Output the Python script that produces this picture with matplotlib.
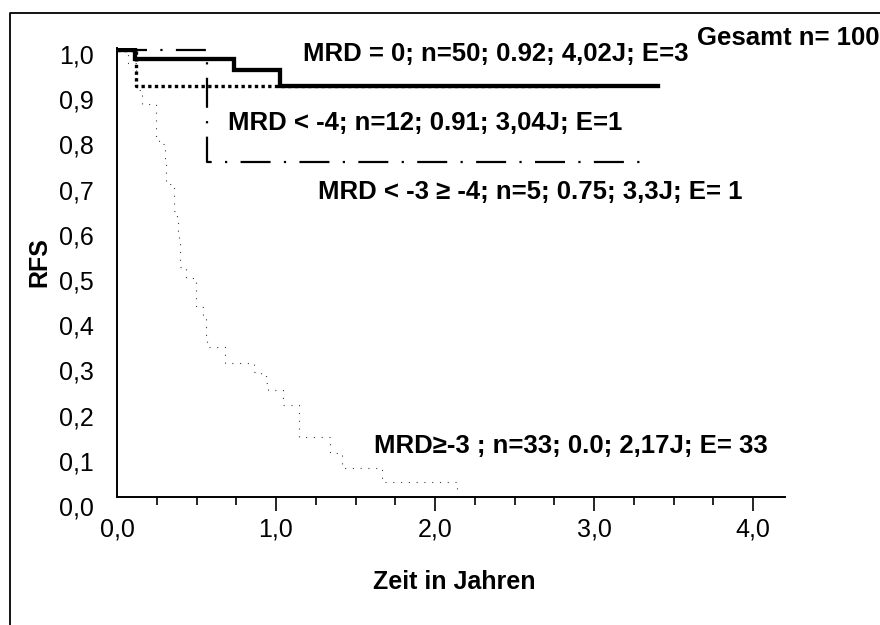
import matplotlib
matplotlib.use("Agg")
import matplotlib.pyplot as plt
from matplotlib.lines import Line2D
from matplotlib.ticker import FixedLocator, FuncFormatter
import matplotlib.transforms as mtransforms

plt.rcParams['font.family'] = ['Liberation Sans', 'DejaVu Sans']

# ---- data ----
# MRD = 0 (n=50)
mrd0_t = [0.0, 0.113, 0.735, 1.025, 3.40]
mrd0_s = [1.0, 0.98, 0.955, 0.92, 0.92]
# MRD < -4 (n=12)
mrd4_t = [0.0, 0.12, 3.04]
mrd4_s = [1.0, 0.92, 0.92]
# MRD < -3 >= -4 (n=5)
mrd34_t = [0.0, 0.566, 3.31]
mrd34_s = [1.0, 0.75, 0.75]
# MRD >= -3 (n=33)
mrd3_t = [0.0, 0.07, 0.12, 0.16, 0.245, 0.265, 0.30, 0.31, 0.36, 0.38, 0.384,
          0.39, 0.396, 0.434, 0.497, 0.54, 0.56, 0.566, 0.68, 0.86, 0.906,
          0.94, 0.95, 1.044, 1.145, 1.34, 1.415, 1.667, 2.14, 2.17]
mrd3_s = [1.0, 0.97, 0.91, 0.88, 0.80, 0.79, 0.745, 0.70, 0.64, 0.62, 0.59,
          0.57, 0.515, 0.49, 0.425, 0.405, 0.36, 0.335, 0.30, 0.28, 0.27,
          0.255, 0.24, 0.205, 0.135, 0.098, 0.065, 0.033, 0.0, 0.0]

x_ticks = [0, 1, 2, 3, 4]
x_minor = [0.25, 0.5, 0.75, 1.25, 1.5, 1.75, 2.25, 2.5, 2.75, 3.25, 3.5, 3.75]
y_ticks = [0.0, 0.1, 0.2, 0.3, 0.4, 0.5, 0.6, 0.7, 0.8, 0.9, 1.0]

labels = {
    'mrd0': "MRD = 0; n=50; 0.92; 4,02J; E=3",
    'mrd4': "MRD < -4; n=12; 0.91; 3,04J; E=1",
    'mrd34': "MRD < -3 \u2265 -4; n=5; 0.75; 3,3J; E= 1",
    'mrd3': "MRD\u2265-3 ; n=33; 0.0; 2,17J; E= 33",
}
total_label = "Gesamt n= 100"

W, H = 880, 625
fig = plt.figure(figsize=(W / 100, H / 100), dpi=100)

# axes placement (pixels)
x0_px, y0_px = 117, 497
px_per_x = 159.0
px_per_y = 447.0
xmax, ymax = 4.2, 1.005
ax = fig.add_axes([x0_px / W, (H - y0_px) / H,
                   xmax * px_per_x / W, ymax * px_per_y / H])
ax.set_xlim(0, xmax)
ax.set_ylim(0, ymax)

# curves
ax.plot(mrd3_t, mrd3_s, drawstyle='steps-post', color='#404040', lw=0.8,
        linestyle=(0, (1, 6)))
ax.plot(mrd34_t, mrd34_s, drawstyle='steps-post', color='black', lw=1.6,
        linestyle=(0, (13.5, 6.0, 1.0, 6.0)))
ax.plot(mrd4_t, mrd4_s, drawstyle='steps-post', color='black', lw=2.4,
        linestyle=(0, (1.0, 1.0)))
ax.plot(mrd0_t, mrd0_s, drawstyle='steps-post', color='black', lw=3.1,
        solid_joinstyle='miter')

# spines
for s in ['top', 'right']:
    ax.spines[s].set_visible(False)
ax.spines['left'].set_linewidth(1.4)
ax.spines['bottom'].set_linewidth(1.4)

# ticks
ax.xaxis.set_major_locator(FixedLocator(x_ticks))
ax.xaxis.set_minor_locator(FixedLocator(x_minor))
ax.xaxis.set_major_formatter(FuncFormatter(lambda v, p: f"{v:.1f}".replace('.', ',')))
ax.tick_params(axis='x', which='major', length=10, width=1.2, pad=5, labelsize=18)
ax.tick_params(axis='x', which='minor', length=6, width=1.2)
ax.xaxis.get_major_ticks()[0].tick1line.set_visible(False)

ax.yaxis.set_major_locator(FixedLocator(y_ticks))
ax.yaxis.set_major_formatter(FuncFormatter(lambda v, p: f"{v:.1f}".replace('.', ',')))
ax.tick_params(axis='y', which='major', length=0, pad=17, labelsize=18)
fig.canvas.draw()
for tick in ax.yaxis.get_major_ticks():
    v = tick.get_loc()
    shift_px = 4 + 5 * (1 - v)
    off = mtransforms.ScaledTranslation(0, -shift_px / 100, fig.dpi_scale_trans)
    tick.label1.set_transform(tick.label1.get_transform() + off)

# annotations
fs = 18.5
ax.text(1.17, 0.991, labels['mrd0'], fontsize=fs, fontweight='bold', va='center', ha='left')
ax.text(0.698, 0.837, labels['mrd4'], fontsize=fs, fontweight='bold', va='center', ha='left')
ax.text(1.264, 0.682, labels['mrd34'], fontsize=fs, fontweight='bold', va='center', ha='left')
ax.text(1.616, 0.114, labels['mrd3'], fontsize=fs, fontweight='bold', va='center', ha='left')
fig.text(697 / W, 1 - 38 / H, total_label, fontsize=fs, fontweight='bold', va='center', ha='left')

# axis titles
fig.text(39 / W, 1 - 262 / H, "RFS", rotation=90, fontsize=18, fontweight='bold',
         va='center', ha='center')
fig.text(454 / W, 1 - 582 / H, "Zeit in Jahren", fontsize=18, fontweight='bold',
         va='center', ha='center')

# outer frame (left and top only)
fx, fy = 9.5 / W, 1 - 12.5 / H
fig.add_artist(Line2D([fx, fx, 1.0], [0.0, fy, fy], transform=fig.transFigure,
                      color='black', lw=1.3))

fig.savefig('out.png', dpi=100)
